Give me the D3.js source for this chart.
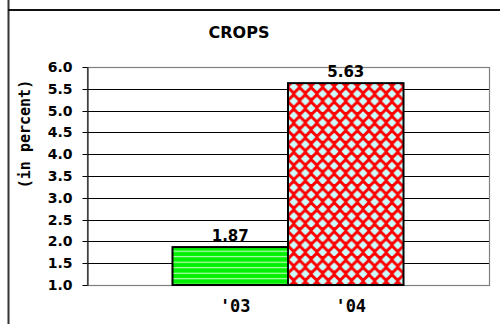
<!DOCTYPE html>
<html>
<head>
<meta charset="utf-8">
<script src="https://cdn.jsdelivr.net/npm/d3@7"></script>
<style>
  html, body { margin: 0; padding: 0; background: #fff; }
  svg { display: block; }
</style>
</head>
<body>
<svg id="chart" width="500" height="324"></svg>
<script>
// Crop price change by year
const chartTitle = "CROPS";
const yearLabels = ["'03", "'04"];
const cropValues = [1.87, 5.63];
const yTickValues = [1.0, 1.5, 2.0, 2.5, 3.0, 3.5, 4.0, 4.5, 5.0, 5.5, 6.0];
const yAxisTitle = "(in percent)";

const svg = d3.select("#chart");
const W = 500, H = 324;
const plot = { left: 87, right: 489, top: 67, bottom: 285 };
const sansBold = "'DejaVu Sans', sans-serif";
const monoBold = "'DejaVu Sans Mono', monospace";

const y = d3.scaleLinear().domain([1, 6]).range([plot.bottom, plot.top]);
const x = d3.scaleBand().domain(yearLabels)
  .range([plot.left, plot.right]).paddingInner(0).paddingOuter(0.74);

// outer frame lines
svg.append("line").attr("x1", 8.5).attr("x2", 8.5).attr("y1", 0).attr("y2", H)
  .attr("stroke", "#333").attr("stroke-width", 2);
svg.append("line").attr("x1", 8).attr("x2", W).attr("y1", 10).attr("y2", 10)
  .attr("stroke", "#111").attr("stroke-width", 2);

// fill patterns
const defs = svg.append("defs");
const bw = x.bandwidth();

const stripes = defs.append("pattern").attr("id", "stripes")
  .attr("patternUnits", "userSpaceOnUse").attr("width", 8).attr("height", 5.5)
  .attr("x", x(yearLabels[0])).attr("y", y(cropValues[0]));
stripes.append("rect").attr("width", 8).attr("height", 5.5).attr("fill", "#00f000");
stripes.append("rect").attr("y", 3.6).attr("width", 8).attr("height", 1.1).attr("fill", "#c8ffc8");

const tw = bw / 10, th = 14.4;
const diamonds = defs.append("pattern").attr("id", "diamonds")
  .attr("patternUnits", "userSpaceOnUse").attr("width", tw).attr("height", th)
  .attr("x", x(yearLabels[1])).attr("y", y(cropValues[1]));
diamonds.append("rect").attr("width", tw).attr("height", th).attr("fill", "#ff0000");
const dia = (cx, cy) => `M${cx},${cy - 3.3}L${cx + 3.4},${cy}L${cx},${cy + 3.3}L${cx - 3.4},${cy}Z`;
[[tw / 2, th / 4], [0, th * 3 / 4], [tw, th * 3 / 4], [tw / 2, th * 5 / 4], [tw / 2, -th / 4]]
  .forEach(([cx, cy]) => diamonds.append("path").attr("d", dia(cx, cy))
    .attr("fill", "#ccffff").attr("stroke", "#ccffff").attr("stroke-width", 1.5)
    .attr("stroke-linejoin", "round"));

// horizontal gridlines
svg.append("g").selectAll("line").data(yTickValues.slice(1, -1)).join("line")
  .attr("x1", plot.left).attr("x2", plot.right)
  .attr("y1", d => Math.round(y(d)) + 0.5).attr("y2", d => Math.round(y(d)) + 0.5)
  .attr("stroke", "#000").attr("stroke-width", 1);

// plot border
svg.append("rect").attr("x", plot.left + 0.5).attr("y", plot.top + 0.5)
  .attr("width", plot.right - plot.left).attr("height", plot.bottom - plot.top)
  .attr("fill", "none").attr("stroke", "#808080").attr("stroke-width", 1.2);

// y axis
const yAxis = d3.axisLeft(y).tickValues(yTickValues).tickFormat(d3.format(".1f"))
  .tickSizeInner(5).tickSizeOuter(0).tickPadding(10);
const gy = svg.append("g").attr("transform", `translate(${plot.left + 0.5},0)`).call(yAxis);
gy.select(".domain").attr("stroke", "#000");
gy.selectAll(".tick line").attr("stroke", "#000");
gy.selectAll(".tick text").attr("font-family", sansBold).attr("font-weight", "bold")
  .attr("font-size", 14).attr("fill", "#000");
gy.selectAll(".tick").attr("transform", d => `translate(0,${Math.round(y(d)) + 0.5})`);

// bars
svg.append("g").selectAll("rect").data(cropValues).join("rect")
  .attr("x", (d, i) => x(yearLabels[i]))
  .attr("y", d => y(d))
  .attr("width", bw)
  .attr("height", d => y(1) - y(d))
  .attr("fill", (d, i) => i === 0 ? "url(#stripes)" : "url(#diamonds)")
  .attr("stroke", "#000").attr("stroke-width", 2);

// value labels
svg.append("g").selectAll("text").data(cropValues).join("text")
  .attr("x", (d, i) => x(yearLabels[i]) + bw / 2)
  .attr("y", d => y(d) - 6)
  .attr("text-anchor", "middle")
  .attr("font-family", sansBold).attr("font-weight", "bold").attr("font-size", 15)
  .text(d => d.toFixed(2));

// x category labels
svg.append("g").selectAll("text").data(yearLabels).join("text")
  .attr("x", d => x(d) + bw / 2 + 5)
  .attr("y", plot.bottom + 27)
  .attr("text-anchor", "middle")
  .attr("font-family", monoBold).attr("font-weight", "bold").attr("font-size", 17)
  .text(d => d);

// y axis title
svg.append("text")
  .attr("transform", `translate(30,${(plot.top + plot.bottom) / 2 - 42}) rotate(-90)`)
  .attr("text-anchor", "middle")
  .attr("font-family", monoBold).attr("font-weight", "bold").attr("font-size", 15)
  .text(yAxisTitle);

// chart title
svg.append("text").attr("x", 239).attr("y", 38).attr("text-anchor", "middle")
  .attr("font-family", sansBold).attr("font-weight", "bold").attr("font-size", 16)
  .text(chartTitle);
</script>
</body>
</html>
